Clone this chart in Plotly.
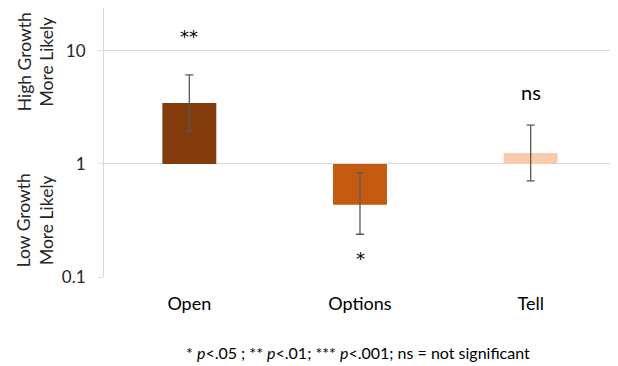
import plotly.graph_objects as go
import math

categories = ["Open", "Options", "Tell"]
odds_ratio = [3.46, 0.436, 1.25]
ci_upper = [6.13, 0.837, 2.21]
ci_lower = [1.96, 0.239, 0.71]
significance = ["**", "*", "ns"]
bar_colors = ["#843C0C", "#C55A11", "#F8CBAD"]
tick_vals = [0.1, 1, 10]
tick_text = ["0.1", "1", "10"]

FONT = "Lato, 'Open Sans', sans-serif"
baseline = 1

fig = go.Figure()
fig.add_trace(go.Bar(
    x=categories,
    y=[v - baseline for v in odds_ratio],
    base=[baseline] * len(odds_ratio),
    marker=dict(color=bar_colors, line=dict(width=0)),
    width=0.316,
    error_y=dict(
        type="data", symmetric=False,
        array=[u - v for u, v in zip(ci_upper, odds_ratio)],
        arrayminus=[v - l for v, l in zip(odds_ratio, ci_lower)],
        color="#595959", thickness=1.3, width=4,
    ),
    hoverinfo="skip",
))

# significance labels
for cat, v, up, lo, s in zip(categories, odds_ratio, ci_upper, ci_lower, significance):
    star = s != "ns"
    fnt = dict(family="'DejaVu Sans', sans-serif" if star else FONT,
               size=18 if star else 20, color="#000000")
    if v >= 1:
        fig.add_annotation(x=cat, y=math.log10(up), yref="y", xref="x", text=s,
                           showarrow=False, yshift=38 if star else 33, font=fnt)
    else:
        fig.add_annotation(x=cat, y=math.log10(lo), yref="y", xref="x", text=s,
                           showarrow=False, yshift=-24, font=fnt)

# y-axis side labels
fig.add_annotation(text="High Growth<br>More Likely", xref="paper", yref="paper",
                   x=-0.134, y=0.80, xanchor="center", yanchor="middle",
                   textangle=-90, showarrow=False,
                   font=dict(family=FONT, size=17.5, color="#262626"))
fig.add_annotation(text="Low Growth<br>More Likely", xref="paper", yref="paper",
                   x=-0.134, y=0.212, xanchor="center", yanchor="middle",
                   textangle=-90, showarrow=False,
                   font=dict(family=FONT, size=17.5, color="#262626"))

# footnote
fig.add_annotation(text="* <i>p</i><.05 ; ** <i>p</i><.01; *** <i>p</i><.001; ns = not significant",
                   xref="paper", yref="paper", x=0.497, y=-0.28,
                   xanchor="center", yanchor="middle", showarrow=False,
                   font=dict(family=FONT, size=16, color="#000000"))

fig.update_layout(
    width=610, height=358,
    margin=dict(l=96, r=2, t=0, b=89),
    paper_bgcolor="white", plot_bgcolor="white",
    showlegend=False,
    bargap=0.684,
    xaxis=dict(showline=False, showgrid=False, ticks="", zeroline=False,
               tickfont=dict(family=FONT, size=18, color="#000000"),
               ticklabelstandoff=14),
    yaxis=dict(type="log", range=[-1, 1.38], tickvals=tick_vals, ticktext=tick_text,
               showgrid=True, gridcolor="#D9D9D9", gridwidth=1,
               showline=True, linecolor="#D9D9D9", linewidth=1,
               ticks="outside", ticklen=5, tickcolor="#D9D9D9",
               zeroline=False, ticklabelstandoff=9,
               tickfont=dict(family=FONT, size=17, color="#262626")),
)

fig.write_html("out.html")
